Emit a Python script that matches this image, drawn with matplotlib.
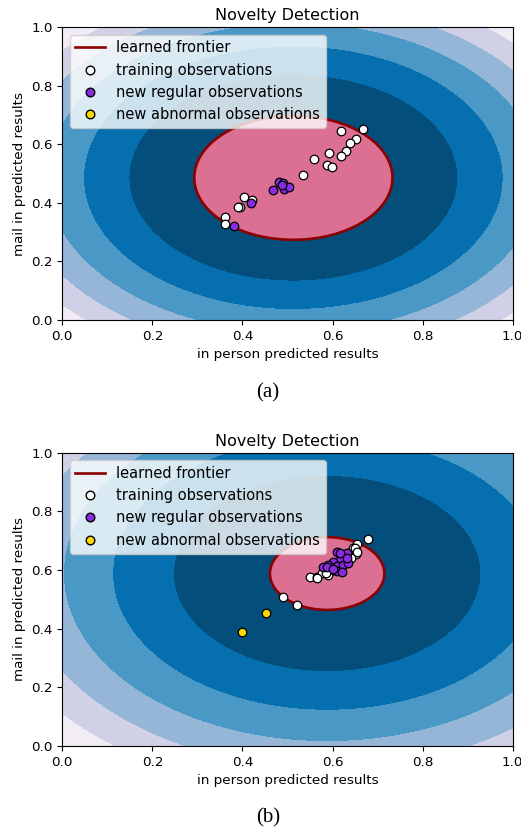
import numpy as np
import matplotlib
matplotlib.use("Agg")
import matplotlib.pyplot as plt
from matplotlib.lines import Line2D

# ---------------- data ----------------
# panel (a)
train_a_x = [0.618, 0.667, 0.652, 0.639, 0.630, 0.618, 0.592, 0.559, 0.587, 0.598,
             0.535, 0.404, 0.422, 0.395, 0.390, 0.362, 0.362]
train_a_y = [0.645, 0.654, 0.620, 0.606, 0.579, 0.560, 0.569, 0.551, 0.528, 0.522,
             0.497, 0.419, 0.410, 0.385, 0.385, 0.353, 0.328]
reg_a_x = [0.482, 0.489, 0.467, 0.492, 0.504, 0.487, 0.420, 0.381]
reg_a_y = [0.473, 0.467, 0.444, 0.449, 0.453, 0.460, 0.399, 0.321]
abn_a_x = []
abn_a_y = []

# panel (b)
train_b_x = [0.679, 0.655, 0.645, 0.652, 0.650, 0.654, 0.642, 0.550, 0.566, 0.591,
             0.576, 0.565, 0.491, 0.520, 0.600, 0.585]
train_b_y = [0.705, 0.688, 0.674, 0.655, 0.674, 0.660, 0.640, 0.575, 0.577, 0.583,
             0.591, 0.574, 0.509, 0.481, 0.600, 0.590]
reg_b_x = [0.609, 0.624, 0.631, 0.617, 0.602, 0.591, 0.578, 0.588, 0.611, 0.624,
           0.635, 0.609, 0.622, 0.600, 0.631, 0.617]
reg_b_y = [0.662, 0.645, 0.657, 0.634, 0.628, 0.617, 0.609, 0.611, 0.615, 0.617,
           0.623, 0.597, 0.594, 0.602, 0.640, 0.657]
abn_b_x = [0.452, 0.399]
abn_b_y = [0.452, 0.390]

# learned frontier model (centre, semi-axes, shape exponent)
frontier_a = dict(cx=0.513, cy=0.486, ax=0.220, ay=0.212, q=1.0)
frontier_b = dict(cx=0.588, cy=0.588, ax=0.127, ay=0.124, q=0.9)

legend_labels = ["learned frontier", "training observations",
                 "new regular observations", "new abnormal observations"]
captions = ["(a)", "(b)"]
title = "Novelty Detection"
xlabel = "in person predicted results"
ylabel = "mail in predicted results"

# ---------------- figure ----------------
W, H = 521, 831
fig = plt.figure(figsize=(W / 100, H / 100), dpi=100)

ax_a = fig.add_axes([62.3 / W, 1 - 320 / H, 450.4 / W, 292.7 / H])
ax_b = fig.add_axes([62.3 / W, 1 - 746 / H, 450.4 / W, 293.3 / H])

xx, yy = np.meshgrid(np.linspace(0, 1, 400), np.linspace(0, 1, 400))


def panel(ax, fr, tx, ty, rx, ry, ax_, ay_, cap, cap_y):
    u = ((xx - fr["cx"]) / fr["ax"]) ** 2 + ((yy - fr["cy"]) / fr["ay"]) ** 2
    Z = 1 - u ** fr["q"]
    ax.contourf(xx, yy, Z, levels=np.linspace(Z.min(), 0, 7), cmap=plt.cm.PuBu)
    ax.contour(xx, yy, Z, levels=[0], linewidths=1.9, colors="darkred")
    ax.contourf(xx, yy, Z, levels=[0, Z.max()], colors="palevioletred")
    s = 38
    ax.scatter(tx, ty, c="white", s=s, edgecolors="k", linewidths=0.9, zorder=3)
    ax.scatter(rx, ry, c="blueviolet", s=s, edgecolors="k", linewidths=0.9, zorder=3)
    ax.scatter(ax_, ay_, c="gold", s=s, edgecolors="k", linewidths=0.9, zorder=3)
    ax.set_xlim(0, 1)
    ax.set_ylim(0, 1)
    ax.set_title(title, fontsize=11.5, pad=5)
    ax.set_xlabel(xlabel, fontsize=9.7)
    ax.set_ylabel(ylabel, fontsize=9.7)
    ax.tick_params(labelsize=9.7)
    handles = [
        Line2D([], [], color="darkred", lw=1.9),
        Line2D([], [], ls="", marker="o", mfc="white", mec="k", ms=6.2),
        Line2D([], [], ls="", marker="o", mfc="blueviolet", mec="k", ms=6.2),
        Line2D([], [], ls="", marker="o", mfc="gold", mec="k", ms=6.2),
    ]
    ax.legend(handles, legend_labels, loc="upper left", fontsize=10.5,
              fancybox=True, framealpha=0.8, borderpad=0.4, labelspacing=0.5,
              handlelength=2.0)
    fig.text(0.514, 1 - cap_y / H, cap, ha="center", va="center",
             fontsize=15, family="Liberation Serif")


panel(ax_a, frontier_a, train_a_x, train_a_y, reg_a_x, reg_a_y, abn_a_x, abn_a_y,
      captions[0], 393)
panel(ax_b, frontier_b, train_b_x, train_b_y, reg_b_x, reg_b_y, abn_b_x, abn_b_y,
      captions[1], 818)

fig.savefig("out.png", dpi=100)
